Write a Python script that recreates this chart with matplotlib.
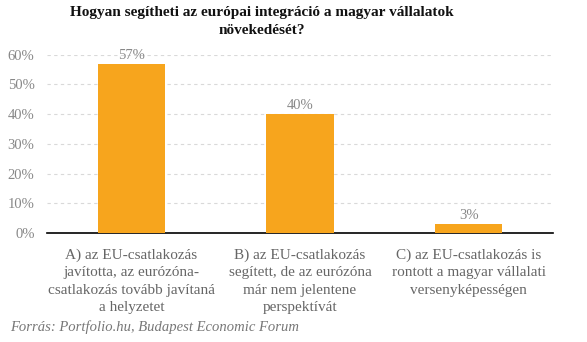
import matplotlib.pyplot as plt

categories = [
    'A) az EU-csatlakozás\njavította, az eurózóna-\ncsatlakozás tovább javítaná\na helyzetet',
    'B) az EU-csatlakozás\nsegített, de az eurózóna\nmár nem jelentene\nperspektívát',
    'C) az EU-csatlakozás is\nrontott a magyar vállalati\nversenyképességen',
]
values = [57, 40, 3]
yticks = [0, 10, 20, 30, 40, 50, 60]

plt.rcParams['font.family'] = ['Liberation Serif', 'DejaVu Serif']

fig = plt.figure(figsize=(5.87, 3.42), dpi=100)
ax = fig.add_axes([47 / 587, 1 - 233 / 342, (553 - 47) / 587, (233 - 54.7) / 342])

x = range(len(values))
ax.bar(x, values, width=0.4, color='#F7A51D', zorder=3)
for i, v in zip(x, values):
    ax.text(i, v + 0.6, f'{v}%', ha='center', va='bottom', fontsize=10.5, color='#888888')

ax.set_xlim(-0.5, 2.5)
ax.set_ylim(0, 60)
ax.set_yticks(yticks)
ax.set_yticklabels([f'{t}%' for t in yticks], fontsize=10.5, color='#888888')
ax.set_xticks([])
ax.tick_params(axis='y', length=0, pad=9)
for t in yticks[1:]:
    ax.axhline(t, color='#d9d9d9', lw=0.8, ls=(0, (3, 3)), zorder=1)
for s in ['top', 'right', 'left']:
    ax.spines[s].set_visible(False)
ax.spines['bottom'].set_color('black')
ax.spines['bottom'].set_linewidth(1.2)

for i, c in zip(x, categories):
    ax.annotate(c, xy=(i, 0), xycoords='data', xytext=(0, -11), textcoords='offset points',
                ha='center', va='top', fontsize=11, color='#666666', linespacing=1.45)

fig.text(262 / 587, 1 - 6 / 342, 'Hogyan segítheti az európai integráció a magyar vállalatok\nnövekedését?',
         ha='center', va='top', fontsize=11, fontweight='bold', color='#111111', linespacing=1.45)
fig.text(10 / 587, 1 - 327 / 342, 'Forrás: Portfolio.hu, Budapest Economic Forum',
         ha='left', va='center', fontsize=10.5, style='italic', color='#777777')

fig.savefig('out.png', dpi=100)
